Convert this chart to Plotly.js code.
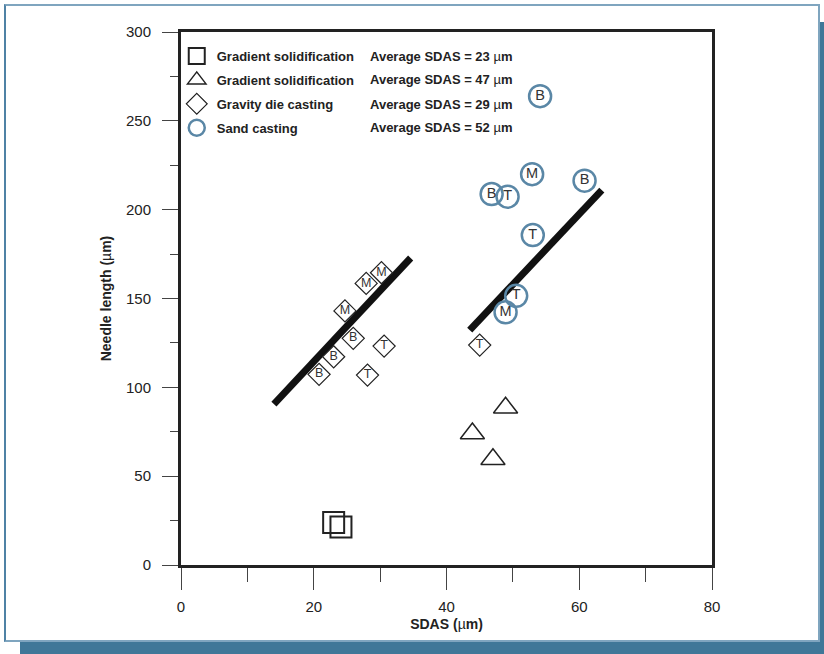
<!DOCTYPE html>
<html>
<head>
<meta charset="utf-8">
<script src="https://cdn.plot.ly/plotly-3.0.1.min.js"></script>
<style>
  html, body { margin: 0; padding: 0; background: #ffffff; }
  #frame { position: relative; width: 824px; height: 654px; overflow: hidden; }
  #shadow { position: absolute; left: 20px; top: 22px; width: 804px; height: 632px; background: #3f7798; }
  #panel { position: absolute; left: 4px; top: 4px; width: 812px; height: 634px; background: #ffffff;
           border: 2px solid #7fa5bf; border-left-color: #4f82a5; }
  #chart { position: absolute; left: 0; top: 0; width: 824px; height: 654px; }
</style>
</head>
<body>
<div id="frame">
  <div id="shadow"></div>
  <div id="panel"></div>
  <div id="chart"></div>
</div>
<script>
// Gradient solidification, SDAS ~23 um
const gs23X = [23.0, 24.1];
const gs23Y = [23.9, 21.4];

// Gradient solidification, SDAS ~47 um
const gs47X = [48.9, 43.9, 47.0];
const gs47Y = [88.5, 74.0, 59.5];

// Gravity die casting (letters mark B / M / T position)
const gdcX = [30.2, 27.9, 24.7, 25.95, 23.0, 20.8, 30.6, 28.1, 45.0];
const gdcY = [164.5, 158.5, 143.0, 127.6, 117.2, 107.3, 123.2, 106.9, 123.8];
const gdcTag = ['M', 'M', 'M', 'B', 'B', 'B', 'T', 'T', 'T'];

// Sand casting
const scX = [54.1, 52.9, 60.8, 46.8, 49.2, 53.0, 50.5, 48.9];
const scY = [263.9, 220.0, 216.3, 208.8, 207.3, 185.7, 151.5, 142.2];
const scTag = ['B', 'M', 'B', 'B', 'T', 'T', 'T', 'M'];

// Trend lines
const fitGdcX = [14.0, 34.6];
const fitGdcY = [90.6, 172.8];
const fitScX = [43.5, 63.4];
const fitScY = [132.2, 211.0];

// Legend labels
const seriesNames = ['Gradient solidification', 'Gradient solidification', 'Gravity die casting', 'Sand casting'];
const avgSDAS = [23, 47, 29, 52];

const FONT = 'Liberation Sans, Arial, Helvetica, sans-serif';
const INK = '#222222';
const STEEL = '#5a87a6';
const NONE = 'rgba(0,0,0,0)';

const traces = [
  { x: fitGdcX, y: fitGdcY, mode: 'lines', line: { color: '#111', width: 7 }, showlegend: false, hoverinfo: 'skip' },
  { x: fitScX, y: fitScY, mode: 'lines', line: { color: '#111', width: 7 }, showlegend: false, hoverinfo: 'skip' },
  { x: gs23X, y: gs23Y, mode: 'markers', name: seriesNames[0], legendgroup: 'a',
    marker: { symbol: 'square', size: 21, color: NONE, line: { color: INK, width: 2 } } },
  { x: gs47X, y: gs47Y, mode: 'markers', name: seriesNames[1], legendgroup: 'b',
    marker: { symbol: 'triangle-up', size: 21, color: NONE, line: { color: INK, width: 1.5 } } },
  { x: gdcX, y: gdcY, mode: 'markers', name: seriesNames[2], legendgroup: 'c',
    marker: { symbol: 'diamond', size: 17, color: '#ffffff', line: { color: INK, width: 1.2 } } },
  { x: gdcX, y: gdcY, text: gdcTag, mode: 'text', textposition: 'middle center', showlegend: false,
    textfont: { family: FONT, size: 12.5, color: '#333' }, hoverinfo: 'skip' },
  { x: scX, y: scY, mode: 'markers', name: seriesNames[3], legendgroup: 'd',
    marker: { symbol: 'circle', size: 22, color: NONE, line: { color: STEEL, width: 2.5 } } },
  { x: scX, y: scY, text: scTag, mode: 'text', textposition: 'middle center', showlegend: false,
    textfont: { family: FONT, size: 14.5, color: '#333' }, hoverinfo: 'skip' }
];

// second column of the legend: average SDAS for each series
const legendRowsY = [286.4, 273.5, 259.4, 246.5];
const annotations = avgSDAS.map((v, i) => ({
  xref: 'x', yref: 'y', x: 28.2, y: legendRowsY[i], xanchor: 'left', yanchor: 'middle',
  showarrow: false,
  text: 'Average SDAS = ' + v + ' <span style="font-weight:normal">µ</span>m',
  font: { family: FONT, size: 13, color: INK, weight: 'bold' }
}));

const layout = {
  width: 824, height: 654,
  margin: { l: 181, r: 112, t: 32, b: 89 },
  paper_bgcolor: NONE, plot_bgcolor: NONE,
  font: { family: FONT, color: INK },
  showlegend: true,
  legend: {
    x: -0.008, y: 0.983, xanchor: 'left', yanchor: 'top',
    bgcolor: NONE, borderwidth: 0,
    traceorder: 'grouped', tracegroupgap: 4,
    font: { family: FONT, size: 13, color: INK, weight: 'bold' }
  },
  xaxis: {
    range: [0, 80], dtick: 20, tick0: 0,
    ticks: 'outside', ticklen: 22, tickwidth: 1, tickcolor: '#444',
    minor: { dtick: 10, ticks: 'outside', ticklen: 14, tickwidth: 1, tickcolor: '#444' },
    showline: true, linewidth: 3, linecolor: '#222', mirror: true,
    showgrid: false, zeroline: false,
    tickfont: { family: FONT, size: 15, color: '#222' },
    ticklabelstandoff: 4,
    title: { text: 'SDAS (<span style="font-weight:normal">µ</span>m)', standoff: 6,
             font: { family: FONT, size: 14, color: INK, weight: 'bold' } }
  },
  yaxis: {
    range: [0, 300], dtick: 50, tick0: 0,
    ticks: 'outside', ticklen: 16, tickwidth: 1, tickcolor: '#444',
    minor: { dtick: 25, ticks: 'outside', ticklen: 8, tickwidth: 1, tickcolor: '#444' },
    showline: true, linewidth: 3, linecolor: '#222', mirror: true,
    showgrid: false, zeroline: false,
    tickfont: { family: FONT, size: 15, color: '#222' },
    ticklabelstandoff: 8,
    title: { text: 'Needle length (<span style="font-weight:normal">µ</span>m)', standoff: 12,
             font: { family: FONT, size: 14, color: INK, weight: 'bold' } }
  },
  // inward ticks along the top and right edges of the frame
  xaxis2: {
    overlaying: 'x', side: 'top', anchor: 'y', range: [0, 80], dtick: 10, tick0: 0,
    ticks: 'inside', ticklen: 12, tickwidth: 1, tickcolor: '#444',
    showticklabels: false, showline: false, showgrid: false, zeroline: false
  },
  yaxis2: {
    overlaying: 'y', side: 'right', anchor: 'x', range: [0, 300], dtick: 25, tick0: 0,
    ticks: 'inside', ticklen: 11, tickwidth: 1, tickcolor: '#444',
    showticklabels: false, showline: false, showgrid: false, zeroline: false
  },
  annotations: annotations
};

Plotly.newPlot('chart', traces, layout, { displayModeBar: false, staticPlot: true });
</script>
</body>
</html>
